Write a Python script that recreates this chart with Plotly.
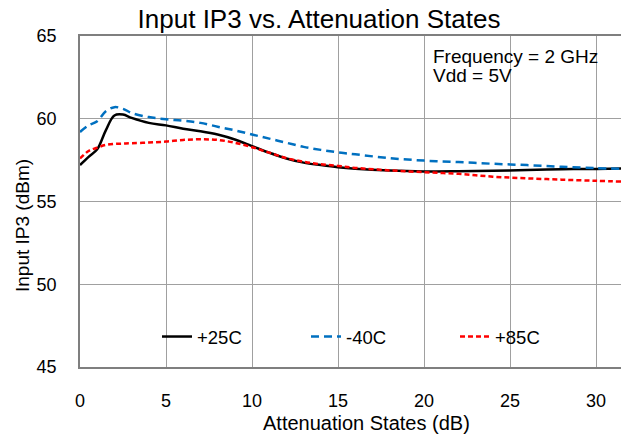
import plotly.graph_objects as go

atten = [0, 0.5, 1, 1.5, 2, 2.5, 3, 4, 5, 6, 7, 8, 9, 10, 11, 12, 13, 14, 15, 16,
         18, 20, 22, 24, 26, 28, 30, 31.5]
ip3_25c = [57.2, 57.7, 58.15, 59.3, 60.2, 60.25, 60.05, 59.75, 59.6, 59.4, 59.25, 59.05,
           58.75, 58.35, 57.95, 57.6, 57.35, 57.2, 57.07, 56.98, 56.87, 56.82, 56.83,
           56.86, 56.9, 56.95, 56.97, 57.0]
ip3_m40c = [59.2, 59.6, 59.85, 60.45, 60.7, 60.6, 60.35, 60.1, 59.97, 59.88, 59.75, 59.52,
            59.3, 59.05, 58.8, 58.55, 58.3, 58.12, 57.97, 57.85, 57.62, 57.47, 57.38,
            57.28, 57.2, 57.1, 57.02, 56.97]
ip3_85c = [57.6, 58.05, 58.25, 58.42, 58.48, 58.5, 58.52, 58.56, 58.62, 58.72, 58.76, 58.72,
           58.55, 58.28, 57.95, 57.62, 57.4, 57.25, 57.15, 57.03, 56.88, 56.77, 56.67,
           56.5, 56.4, 56.32, 56.25, 56.2]
series_names = ["+25C", "-40C", "+85C"]
x_ticks = [0, 5, 10, 15, 20, 25, 30]
y_ticks = [45, 50, 55, 60, 65]

FONT = "Liberation Sans, Arial, sans-serif"
W, H = 621, 437
ML, MR, MT, MB = 80, 0, 36, 70
PW, PH = W - ML - MR, H - MT - MB


def px_x(p):
    return (p - ML) / PW


def px_y(p):
    return (H - MB - p) / PH


fig = go.Figure()
fig.add_trace(go.Scatter(x=atten, y=ip3_25c, name=series_names[0], mode="lines",
                         line=dict(color="#000000", width=2.5, shape="spline")))
fig.add_trace(go.Scatter(x=atten, y=ip3_m40c, name=series_names[1], mode="lines",
                         line=dict(color="#0070C0", width=2.5, dash="8px,5px", shape="spline")))
fig.add_trace(go.Scatter(x=atten, y=ip3_85c, name=series_names[2], mode="lines",
                         line=dict(color="#FF0000", width=2.5, dash="5px,3px", shape="spline")))

# white band behind legend
fig.add_shape(type="rect", xref="paper", yref="paper", x0=0, x1=1,
              y0=px_y(353), y1=px_y(318),
              fillcolor="white", line=dict(width=0), layer="between")
# white box behind condition text
fig.add_shape(type="rect", xref="paper", yref="paper", x0=px_x(428), x1=1,
              y0=px_y(102), y1=px_y(40),
              fillcolor="white", line=dict(width=0), layer="between")

fig.add_annotation(xref="paper", yref="paper", x=px_x(431), y=px_y(56),
                   xanchor="left", yanchor="middle", text="Frequency = 2 GHz",
                   showarrow=False, font=dict(family=FONT, size=19, color="#000000"))
fig.add_annotation(xref="paper", yref="paper", x=px_x(431), y=px_y(75),
                   xanchor="left", yanchor="middle", text="Vdd = 5V",
                   showarrow=False, font=dict(family=FONT, size=19, color="#000000"))

# axis titles
fig.add_annotation(xref="paper", yref="paper", x=px_x(366), y=px_y(423),
                   xanchor="center", yanchor="middle", text="Attenuation States (dB)",
                   showarrow=False, font=dict(family=FONT, size=20, color="#000000"))
fig.add_annotation(xref="paper", yref="paper", x=px_x(22), y=px_y(226),
                   xanchor="center", yanchor="middle", text="Input IP3 (dBm)", textangle=-90,
                   showarrow=False, font=dict(family=FONT, size=19, color="#000000"))

fig.update_layout(
    width=W, height=H,
    margin=dict(l=ML, r=MR, t=MT, b=MB),
    paper_bgcolor="white", plot_bgcolor="white",
    font=dict(family=FONT, size=18, color="#000000"),
    title=dict(text="Input IP3 vs. Attenuation States", x=319 / W, xanchor="center",
               y=1 - 19 / H, yanchor="middle", font=dict(family=FONT, size=26, color="#000000")),
    legend=dict(orientation="h", x=px_x(157), xanchor="left", y=px_y(337), yanchor="middle",
                bgcolor="rgba(0,0,0,0)", itemwidth=30, entrywidth=104,
                entrywidthmode="pixels", font=dict(family=FONT, size=18.5)),
    showlegend=True,
)
fig.update_xaxes(range=[0, 31.45], tickvals=x_ticks, showgrid=True, gridcolor="#A0A0A0",
                 gridwidth=1.3, showline=True, linecolor="#7F7F7F", linewidth=1.5, mirror=True,
                 ticks="", ticklabelstandoff=17, zeroline=False, automargin=False,
                 tickfont=dict(family=FONT, size=18))
fig.update_yaxes(range=[45, 65], tickvals=y_ticks, showgrid=True, gridcolor="#A0A0A0",
                 gridwidth=1.3, showline=True, linecolor="#7F7F7F", linewidth=1.5,
                 ticks="", ticklabelstandoff=18, zeroline=False, automargin=False,
                 tickfont=dict(family=FONT, size=18))

fig.write_html("out.html", config={"displayModeBar": False},
               post_script="document.body.style.margin='0';document.body.style.padding='0';")
